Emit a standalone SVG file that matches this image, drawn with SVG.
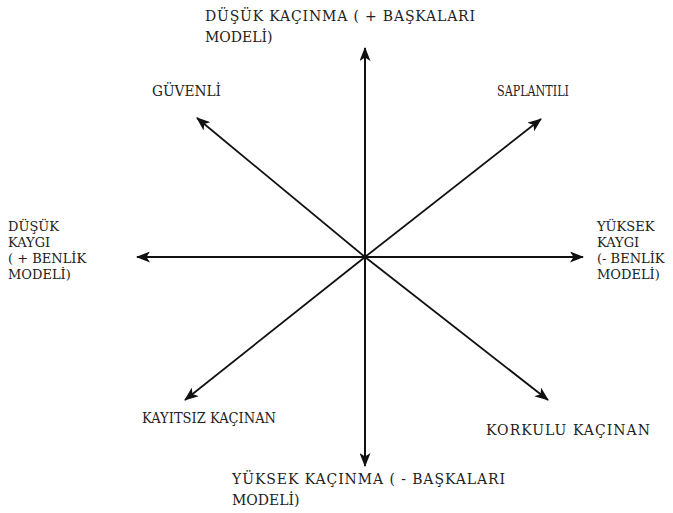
<svg xmlns="http://www.w3.org/2000/svg" width="673" height="513" viewBox="0 0 673 513">
<style>
.t text{font-family:"DejaVu Serif","Liberation Serif",serif;font-size:14px;fill:#222}
.t .s{font-size:13px}
.ax{stroke:#111;stroke-width:2;fill:none}
.dg{stroke:#111;stroke-width:1.8;fill:none}
</style>
<defs>
<marker id="ah" viewBox="0 0 14 11" refX="13" refY="5.5" markerWidth="14" markerHeight="11" markerUnits="userSpaceOnUse" orient="auto">
<path d="M0,0 L14,5.5 L0,11 L3.5,5.5 Z" fill="#111"/>
</marker>
</defs>
<rect width="673" height="513" fill="#fff"/>
<g id="connectors">
<line class="ax" x1="365" y1="257" x2="365" y2="48" marker-end="url(#ah)"/>
<line class="ax" x1="365" y1="257" x2="365" y2="466" marker-end="url(#ah)"/>
<line class="ax" x1="365" y1="257" x2="137" y2="257" marker-end="url(#ah)"/>
<line class="ax" x1="365" y1="257" x2="583" y2="257" marker-end="url(#ah)"/>
<line class="dg" x1="365" y1="257" x2="197" y2="118" marker-end="url(#ah)"/>
<line class="dg" x1="365" y1="257" x2="541" y2="119" marker-end="url(#ah)"/>
<line class="dg" x1="365" y1="257" x2="548" y2="400" marker-end="url(#ah)"/>
<line class="dg" x1="365" y1="257" x2="185" y2="400" marker-end="url(#ah)" stroke-width="1.4"/>
</g>
<g class="t">
<g id="top"><text x="205" y="21" textLength="270">DÜŞÜK KAÇINMA ( + BAŞKALARI</text><text x="205" y="42">MODELİ)</text></g>
<g id="guvenli"><text x="152" y="96" textLength="69" lengthAdjust="spacingAndGlyphs">GÜVENLİ</text></g>
<g id="saplantili"><text x="497" y="96" textLength="72" lengthAdjust="spacingAndGlyphs">SAPLANTILI</text></g>
<g id="left"><text class="s" x="8" y="231">DÜŞÜK</text><text class="s" x="8" y="247">KAYGI</text><text class="s" x="8" y="263">( + BENLİK</text><text class="s" x="8" y="279">MODELİ)</text></g>
<g id="right"><text class="s" x="597" y="231">YÜKSEK</text><text class="s" x="597" y="247">KAYGI</text><text class="s" x="597" y="263">(- BENLİK</text><text class="s" x="597" y="279">MODELİ)</text></g>
<g id="kayitsiz"><text x="142" y="423" textLength="134" lengthAdjust="spacingAndGlyphs">KAYITSIZ KAÇINAN</text></g>
<g id="korkulu"><text x="486" y="435" textLength="164">KORKULU KAÇINAN</text></g>
<g id="bottom"><text x="232" y="484" textLength="273">YÜKSEK KAÇINMA ( - BAŞKALARI</text><text x="232" y="505">MODELİ)</text></g>
</g>
</svg>
